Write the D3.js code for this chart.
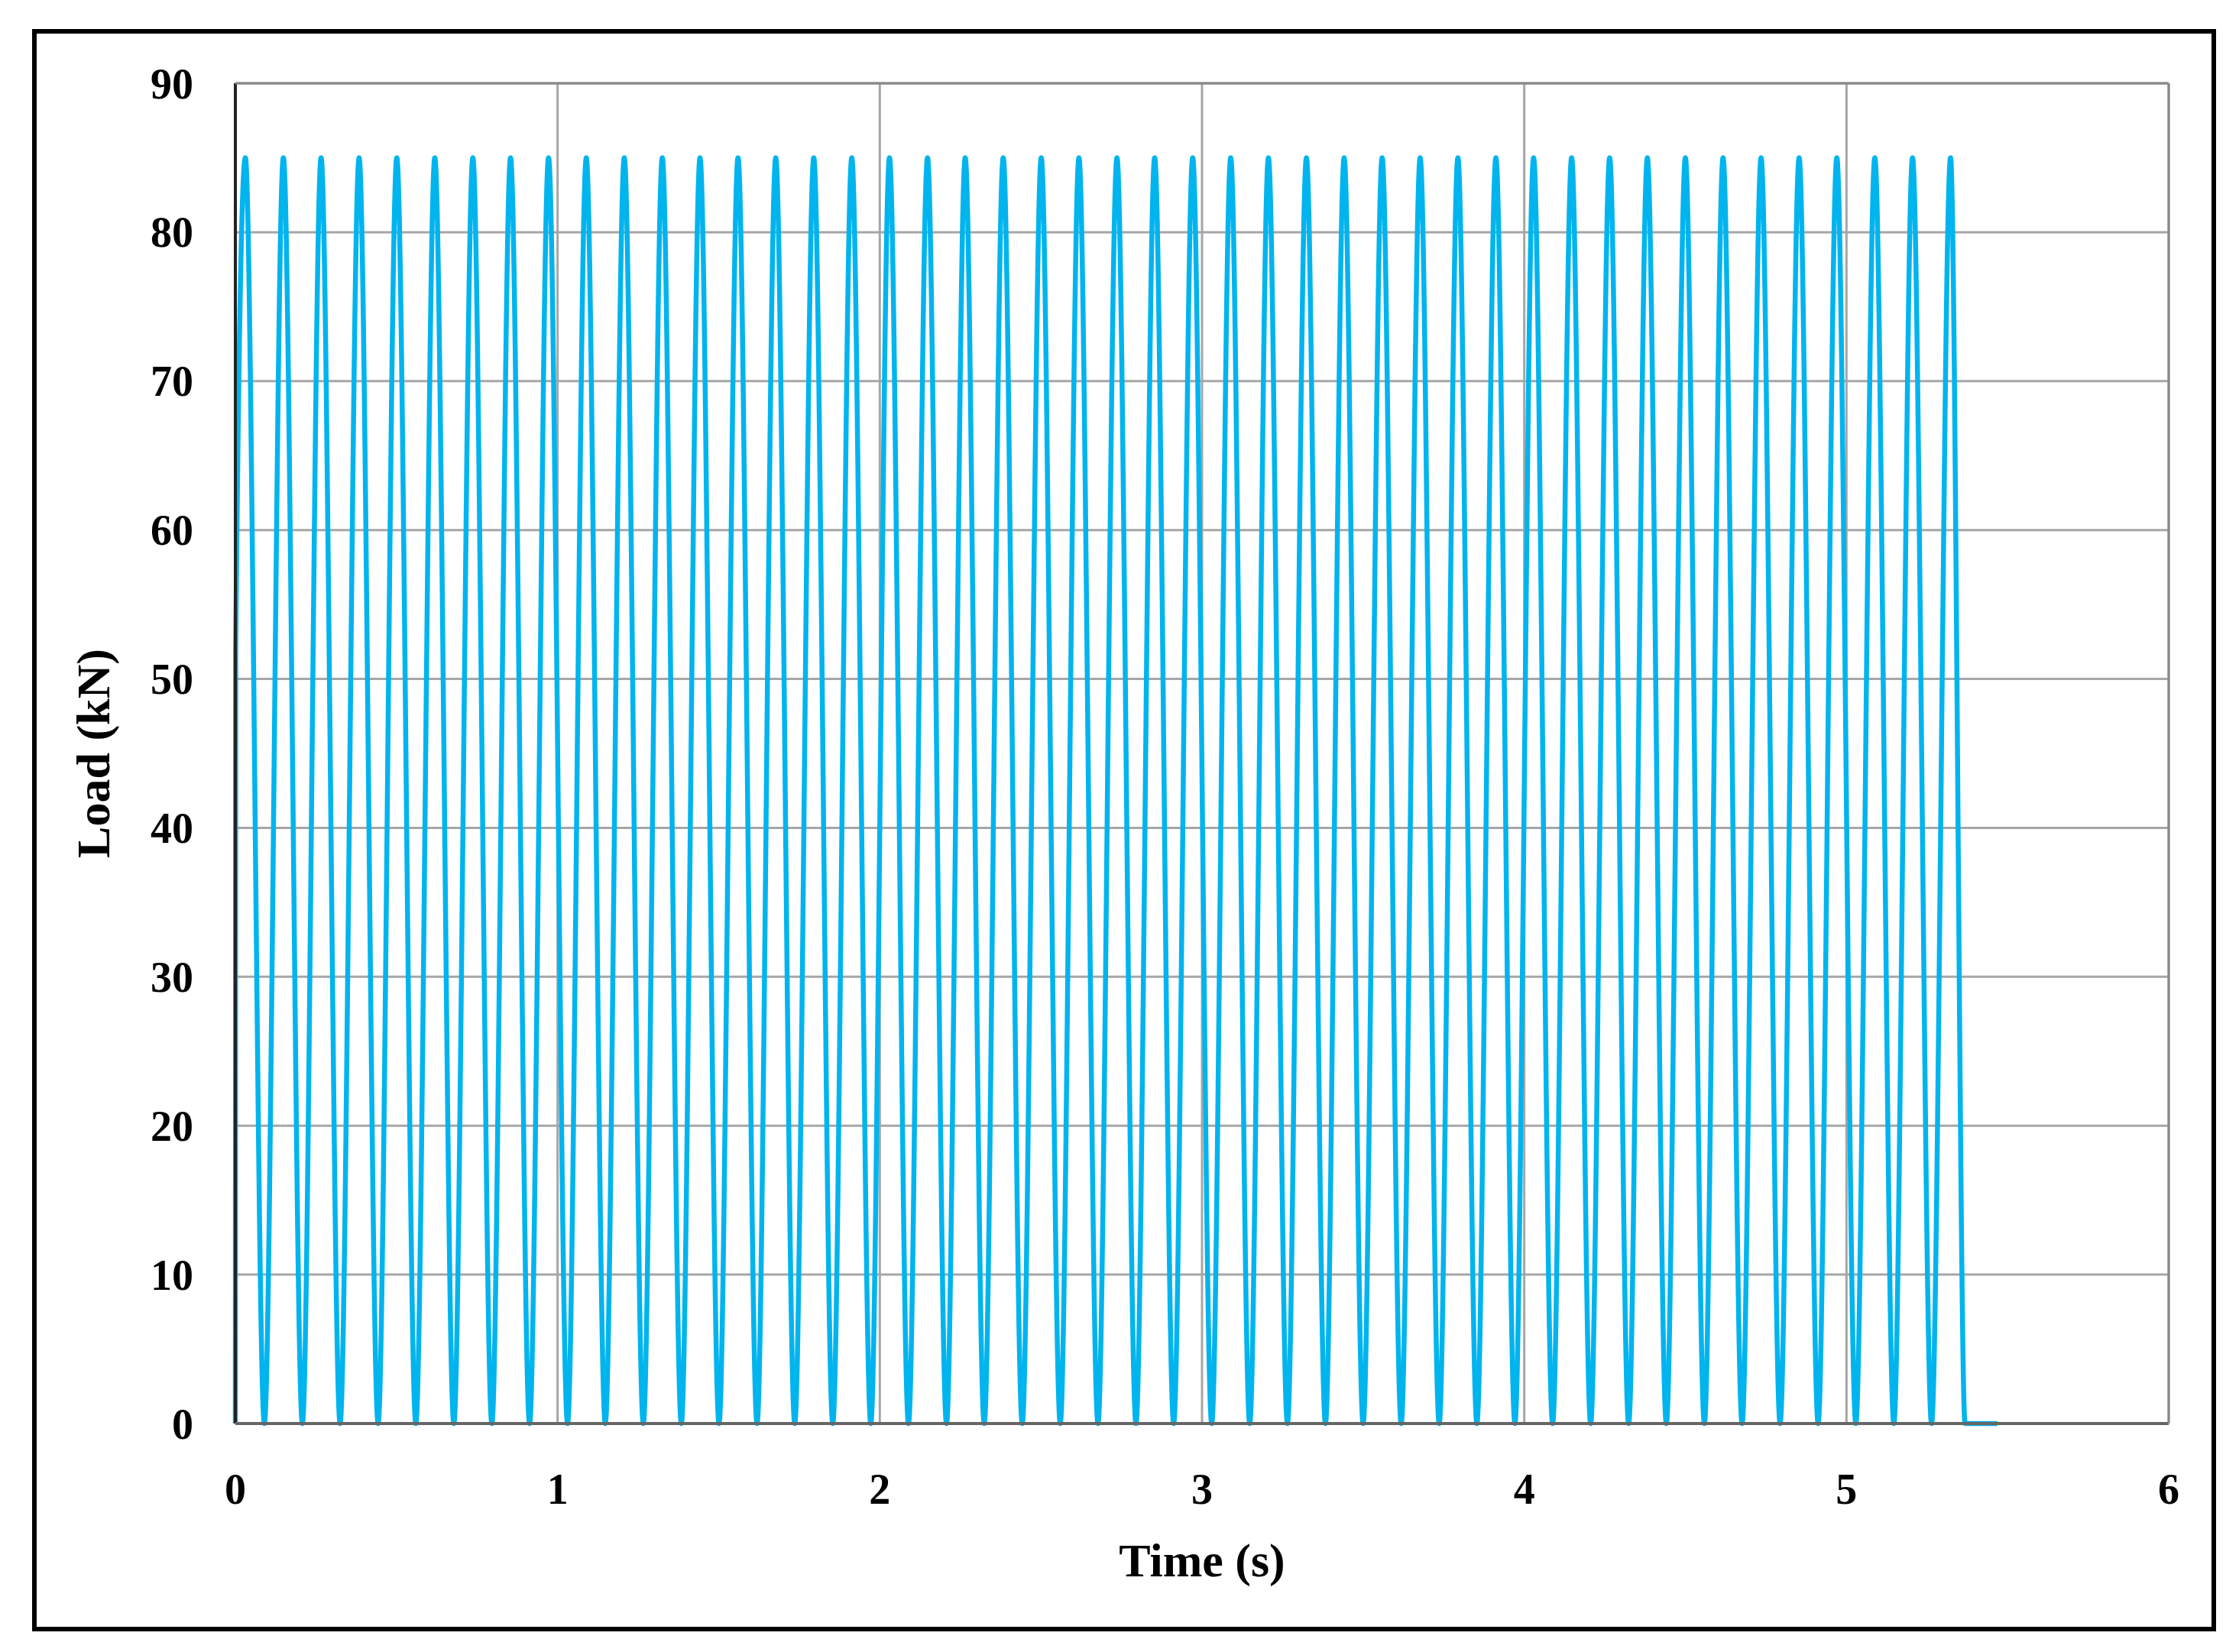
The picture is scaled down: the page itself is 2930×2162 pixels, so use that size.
<!DOCTYPE html>
<meta charset="utf-8">
<style>
    body { margin: 0; background: #fff; }
    text { font-family: "Liberation Serif", "Times New Roman", serif; font-weight: bold; fill: #000; }
</style>
<body>
<script src="https://d3js.org/d3.v7.min.js"></script>
<script>
// peak load times (s), peak value 85 kN
var peakTimes = [0.031, 0.149, 0.266, 0.384, 0.501, 0.619, 0.737, 0.854, 0.972, 1.089,
    1.207, 1.325, 1.442, 1.560, 1.677, 1.795, 1.913, 2.030, 2.148, 2.265,
    2.383, 2.501, 2.618, 2.736, 2.853, 2.971, 3.089, 3.206, 3.324, 3.441,
    3.559, 3.677, 3.794, 3.912, 4.029, 4.147, 4.265, 4.382, 4.500, 4.617,
    4.735, 4.853, 4.970, 5.088, 5.205, 5.323];
// trough (zero load) times (s)
var troughTimes = [0.090, 0.208, 0.325, 0.443, 0.560, 0.678, 0.796, 0.913, 1.031, 1.148,
    1.266, 1.384, 1.501, 1.619, 1.736, 1.854, 1.972, 2.089, 2.207, 2.324,
    2.442, 2.560, 2.677, 2.795, 2.912, 3.030, 3.148, 3.265, 3.383, 3.500,
    3.618, 3.736, 3.853, 3.971, 4.088, 4.206, 4.324, 4.441, 4.559, 4.676,
    4.794, 4.912, 5.029, 5.147, 5.264, 5.368];
var peakLoad = 85;
var startPoints = [[0, 0], [0.001, 52]];
var endPoints = [[5.468, 0]];
var xTicks = [0, 1, 2, 3, 4, 5, 6];
var yTicks = [0, 10, 20, 30, 40, 50, 60, 70, 80, 90];

var W = 2930, H = 2162;
var margin = { left: 308, right: 2838, top: 109, bottom: 1863 };

var svg = d3.select("body").append("svg")
    .attr("width", W).attr("height", H);

// outer frame
svg.append("rect")
    .attr("x", 45).attr("y", 41).attr("width", 2852).attr("height", 2091)
    .attr("fill", "none").attr("stroke", "#000").attr("stroke-width", 6);

var x = d3.scaleLinear().domain([0, 6]).range([margin.left, margin.right]);
var y = d3.scaleLinear().domain([0, 90]).range([margin.bottom, margin.top]);

// gridlines
svg.append("g").selectAll("line").data(yTicks.slice(1)).enter().append("line")
    .attr("x1", x(0)).attr("x2", x(6))
    .attr("y1", function (d) { return y(d); }).attr("y2", function (d) { return y(d); })
    .attr("stroke", "#a6a6a6").attr("stroke-width", 3);
svg.append("g").selectAll("line").data(xTicks.slice(1)).enter().append("line")
    .attr("y1", y(0)).attr("y2", y(90))
    .attr("x1", function (d) { return x(d); }).attr("x2", function (d) { return x(d); })
    .attr("stroke", "#a6a6a6").attr("stroke-width", 3);

// build series
var pts = startPoints.slice();
peakTimes.forEach(function (t, i) {
    pts.push([t, peakLoad]);
    pts.push([troughTimes[i], 0]);
});
pts = pts.concat(endPoints);

var line = d3.line()
    .x(function (d) { return x(d[0]); })
    .y(function (d) { return y(d[1]); })
    .curve(d3.curveMonotoneX);

svg.append("path").datum(pts)
    .attr("d", line)
    .attr("fill", "none").attr("stroke", "#00b4ee").attr("stroke-width", 6.5)
    .attr("stroke-linejoin", "round");

// axes frame
svg.append("line").attr("x1", x(0)).attr("x2", x(0)).attr("y1", y(0)).attr("y2", y(90))
    .attr("stroke", "#222").attr("stroke-width", 4);
svg.append("line").attr("x1", x(0)).attr("x2", x(6)).attr("y1", y(0)).attr("y2", y(0))
    .attr("stroke", "#666").attr("stroke-width", 4);
svg.append("line").attr("x1", x(6)).attr("x2", x(6)).attr("y1", y(0)).attr("y2", y(90))
    .attr("stroke", "#888").attr("stroke-width", 3);
svg.append("line").attr("x1", x(0)).attr("x2", x(6)).attr("y1", y(90)).attr("y2", y(90))
    .attr("stroke", "#888").attr("stroke-width", 3);

// tick labels
svg.append("g").selectAll("text").data(yTicks).enter().append("text")
    .attr("x", 253).attr("y", function (d) { return y(d); })
    .attr("dy", "0.35em").attr("text-anchor", "end")
    .attr("font-size", 56).text(function (d) { return d; });
svg.append("g").selectAll("text").data(xTicks).enter().append("text")
    .attr("x", function (d) { return x(d); }).attr("y", 1968)
    .attr("text-anchor", "middle")
    .attr("font-size", 56).text(function (d) { return d; });

// axis titles
svg.append("text").attr("x", (x(0) + x(6)) / 2).attr("y", 2063)
    .attr("text-anchor", "middle").attr("font-size", 62).text("Time (s)");
svg.append("text")
    .attr("transform", "translate(143," + (y(45)) + ") rotate(-90)")
    .attr("text-anchor", "middle").attr("font-size", 62).text("Load (kN)");
</script>
</body>
